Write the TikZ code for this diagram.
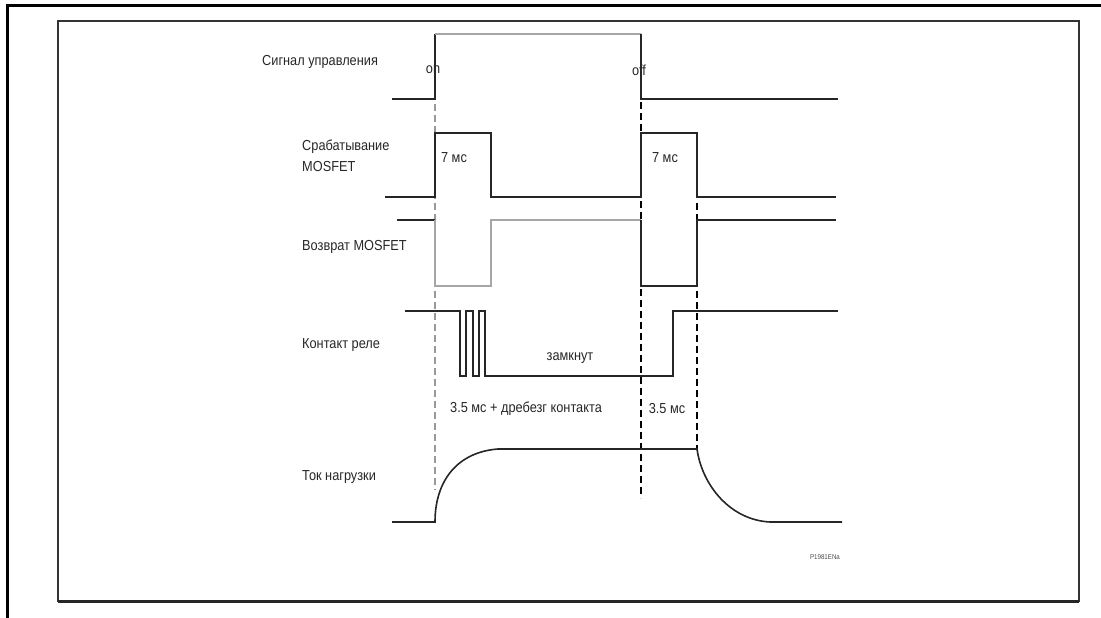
\documentclass[tikz,border=0pt]{standalone}
\usepackage{fontspec}
\setmainfont{Liberation Sans}[FakeStretch=0.88]
\begin{document}
\begin{tikzpicture}[x=1pt,y=-1pt,
  sig/.style={line width=1.6pt, black!85},
  gsig/.style={line width=1.6pt, gray!70},
  guide/.style={line width=1.2pt, dash pattern=on 7pt off 4pt},
  lbl/.style={anchor=west, inner sep=0pt, text=black!85, font=\fontsize{14.5}{16}\selectfont},
  ann/.style={inner sep=0pt, text=black!85, font=\fontsize{14.5}{16}\selectfont}]
\useasboundingbox (0,0) rectangle (1101,618);
% frames
\draw[line width=3pt] (7,618) -- (7,6) -- (1101,6);
\draw[line width=2pt, black!80] (58,21) rectangle (1079,601);
\draw[line width=3pt, black!85] (58,601) -- (1079,601);
% labels
\node[lbl] (l1) at (262,62) {Сигнал управления};
\node[lbl, align=left] (l2) at (302,156) {Срабатывание\\[5pt]MOSFET};
\node[lbl] (l3) at (302,247) {Возврат MOSFET};
\node[lbl] (l4) at (302,345) {Контакт реле};
\node[lbl] (l5) at (302,477) {Ток нагрузки};
% guides
\draw[guide, gray!80] (435,104) -- (435,490);
\draw[guide] (641,102) -- (641,498);
\draw[guide] (697,203) -- (697,449);
% control signal
\draw[sig] (392,99) -- (435,99) -- (435,34);
\draw[gsig] (435,34) -- (641,34);
\draw[sig] (641,34) -- (641,99) -- (838,99);
\node[ann] (on) at (433,70) {on};
\node[ann] (off) at (639,70) {off};
% MOSFET trigger
\draw[sig] (385,197) -- (435,197) -- (435,133) -- (491,133) -- (491,197) -- (641,197) -- (641,133) -- (697,133) -- (697,197) -- (836,197);
\node[ann] (t1) at (454,158) {7 мс};
\node[ann] (t2) at (665,158) {7 мс};
% MOSFET return
\draw[sig] (397,220) -- (435,220);
\draw[gsig] (435,220) -- (435,286) -- (491,286) -- (491,220) -- (641,220);
\draw[sig] (641,220) -- (641,286) -- (697,286) -- (697,220) -- (836,220);
% relay contact
\draw[sig] (405,311) -- (460,311) -- (460,376) -- (466,376) -- (466,311) -- (473,311) -- (473,376) -- (479,376) -- (479,311) -- (485,311) -- (485,376) -- (673,376) -- (673,311) -- (838,311);
\node[ann] (cl) at (570,358) {замкнут};
\node[ann] (b1) at (526,409) {3.5 мс + дребезг контакта};
\node[ann] (b2) at (667,409) {3.5 мс};
% load current
\draw[sig] (392,522) -- (435,522) .. controls (435,480) and (458,452) .. (498,449) -- (697,449) .. controls (702,485) and (730,520) .. (770,522) -- (842,522);
\node[inner sep=0pt, text=black!70, font=\fontsize{7}{8}\selectfont] (id) at (825,557) {P1981ENa};
\end{tikzpicture}
\end{document}
